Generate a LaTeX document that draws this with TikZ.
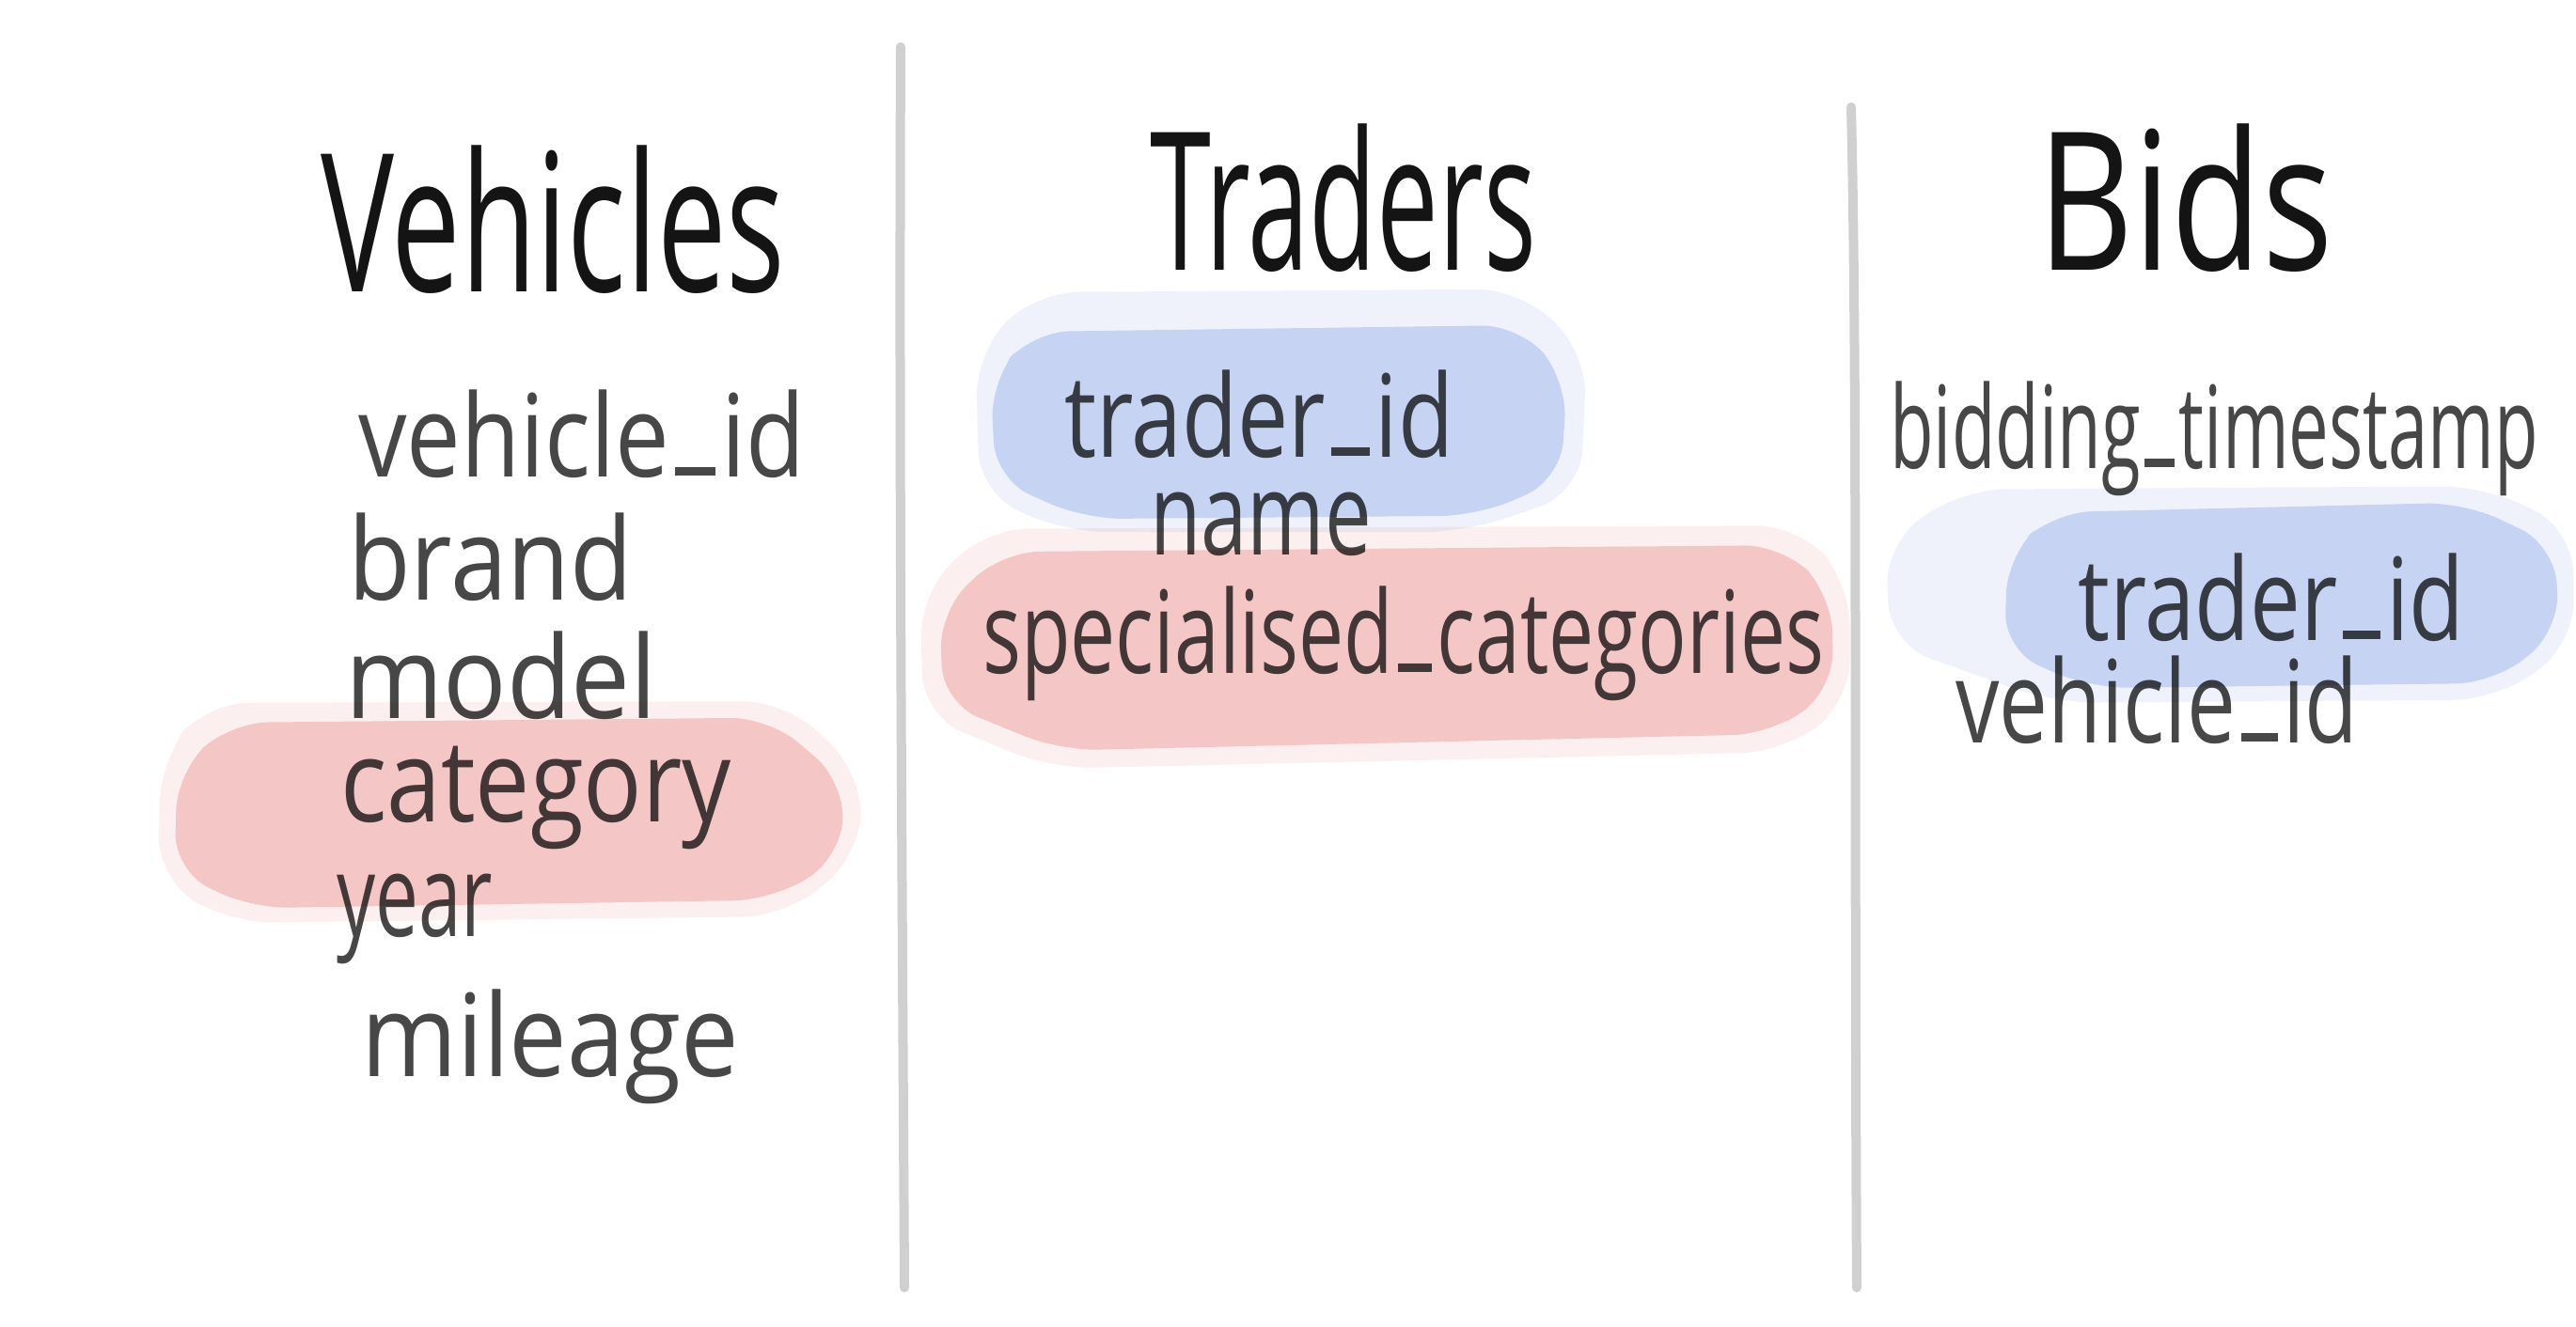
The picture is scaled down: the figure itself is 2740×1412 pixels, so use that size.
\documentclass[tikz,border=0pt]{standalone}
\usepackage{fontspec}
\setmainfont{Open Sans}
\usepackage{graphicx}
\definecolor{ink}{HTML}{474747}
\definecolor{titleink}{HTML}{141414}
\definecolor{hlred}{HTML}{F5C0C0}
\definecolor{hlblue}{HTML}{C0CFF2}
\definecolor{rulegray}{HTML}{D0D0D0}
\tikzset{
  field/.style={anchor=base west, inner sep=0pt, text=ink, font=\fontsize{122}{122}\selectfont},
  heading/.style={anchor=base west, inner sep=0pt, text=titleink, font=\fontsize{205}{205}\selectfont},
  divider/.style={draw=rulegray, line width=10pt, line cap=round},
  halo/.style={fill opacity=0.25, rounded corners=45pt},
  core/.style={fill opacity=0.67, rounded corners=40pt},
}
\newcommand\fitw[2]{\resizebox{#1pt}{\height}{#2}}
\newcommand\us{\kern0.06em\rule[0.01em]{0.42em}{0.075em}\kern0.06em}
\begin{document}
\begin{tikzpicture}[x=1pt, y=-1pt]
  \useasboundingbox (0,0) rectangle (2740,1412);
  \fill[white] (0,0) rectangle (2740,1412);

  % dividers
  \coordinate (d1t) at (958,50);
  \coordinate (d1b) at (962,1370);
  \coordinate (d2t) at (1969,114);
  \coordinate (d2b) at (1975,1370);
  \draw[divider] (d1t) .. controls (956,500) and (960,1000) .. (d1b);
  \draw[divider] (d2t) .. controls (1976,400) and (1972,900) .. (d2b);

  % Vehicles
  \node[heading] (vt) at (341,311) {\fitw{494}{Vehicles}};
  \node[field] (v1) at (381,507) {\fitw{475}{vehicle\us id}};
  \node[field] (v2) at (370,638) {\fitw{303}{brand}};
  \node[field] (v3) at (367,764) {\fitw{332}{model}};
  \node[field] (v4) at (362,874) {\fitw{416}{category}};
  \node[field] (v5) at (358,996) {\fitw{166}{year}};
  \node[field] (v6) at (384,1145) {\fitw{402}{mileage}};

  % Traders
  \node[heading] (tt) at (1223,288) {\fitw{411}{Traders}};
  \node[field] (t1) at (1132,486) {\fitw{414}{trader\us id}};
  \node[field] (t2) at (1223,590) {\fitw{236}{name}};
  \node[field] (t3) at (1045,716) {\fitw{895}{specialised\us categories}};

  % Bids
  \node[heading] (bt) at (2167,288) {\fitw{314}{Bids}};
  \node[field] (b1) at (2010,498) {\fitw{690}{bidding\us timestamp}};
  \node[field] (b2) at (2210,681) {\fitw{411}{trader\us id}};
  \node[field] (b3) at (2080,790) {\fitw{428}{vehicle\us id}};

  % highlights (brush marks), coordinates given at 1568-wide scale
  \begin{scope}[blend mode=multiply, x=1.7474pt, y=-1.7474pt]
    % Vehicles: category
    \fill[hlred, halo] (125,428) -- (478,427) -- (524,470) -- (524,520) -- (478,558) -- (140,562) -- (96,535) -- (98,462) -- cycle;
    \fill[hlred, core] (140,440) -- (468,437) -- (514,476) -- (512,522) -- (470,548) -- (152,553) -- (106,530) -- (108,470) -- cycle;
    % Traders: trader_id
    \fill[hlblue, halo] (630,178) -- (925,176) -- (966,215) -- (962,300) -- (892,324) -- (648,324) -- (596,300) -- (594,215) -- cycle;
    \fill[hlblue, core] (628,202) -- (925,198) -- (954,232) -- (950,292) -- (900,314) -- (660,316) -- (606,292) -- (603,232) -- cycle;
    % Traders: specialised_categories
    \fill[hlred, halo] (600,322) -- (1095,320) -- (1126,355) -- (1126,428) -- (1085,458) -- (640,468) -- (562,436) -- (560,362) -- cycle;
    \fill[hlred, core] (610,336) -- (1085,332) -- (1115,362) -- (1116,420) -- (1078,447) -- (645,457) -- (574,428) -- (572,372) -- cycle;
    % Bids: trader_id
    \fill[hlblue, halo] (1195,298) -- (1512,296) -- (1566,322) -- (1567,392) -- (1520,426) -- (1250,428) -- (1150,392) -- (1148,330) -- cycle;
    \fill[hlblue, core] (1250,312) -- (1500,306) -- (1555,332) -- (1558,384) -- (1518,416) -- (1272,419) -- (1220,396) -- (1222,338) -- cycle;
  \end{scope}
\end{tikzpicture}
\end{document}
